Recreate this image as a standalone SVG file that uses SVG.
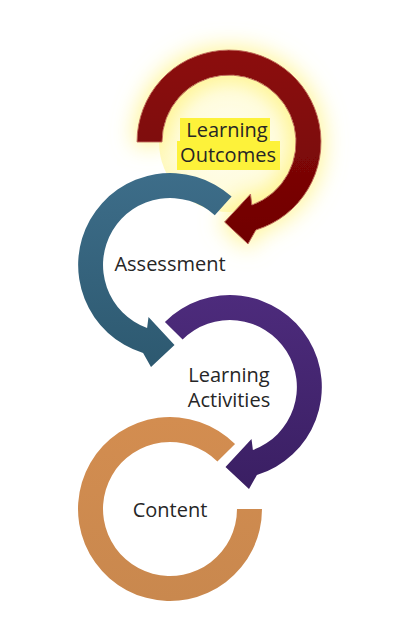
<svg xmlns="http://www.w3.org/2000/svg" width="400" height="635" viewBox="0 0 400 635">
<defs>
<style>
.lbl{font-family:"Open Sans","Noto Sans","Liberation Sans",sans-serif;font-size:20px;fill:#262626;text-anchor:middle}
</style>
<linearGradient id="gRed" x1="0" y1="0" x2="0" y2="1"><stop offset="0" stop-color="#8c0d0d"/><stop offset="1" stop-color="#700202"/></linearGradient>
<linearGradient id="gBlue" x1="0" y1="0" x2="0" y2="1"><stop offset="0" stop-color="#3d6d89"/><stop offset="1" stop-color="#2d5970"/></linearGradient>
<linearGradient id="gPurple" x1="0" y1="0" x2="0" y2="1"><stop offset="0" stop-color="#4d2b7c"/><stop offset="1" stop-color="#3a1f63"/></linearGradient>
<linearGradient id="gOrange" x1="0" y1="0" x2="0" y2="1"><stop offset="0" stop-color="#d38d50"/><stop offset="1" stop-color="#c9884e"/></linearGradient>
<radialGradient id="gInner" cx="0.5" cy="0.5" r="0.5"><stop offset="0" stop-color="#fffdf0"/><stop offset="0.7" stop-color="#fffcde"/><stop offset="1" stop-color="#fff9c0"/></radialGradient>
<filter id="glow" x="-40%" y="-40%" width="180%" height="180%">
<feMorphology in="SourceAlpha" operator="dilate" radius="3" result="d"/>
<feGaussianBlur in="d" stdDeviation="11" result="b"/>
<feFlood flood-color="#fff48a" flood-opacity="0.85"/>
<feComposite in2="b" operator="in" result="g"/>
<feMerge><feMergeNode in="g"/><feMergeNode in="SourceGraphic"/></feMerge>
</filter>
</defs>
<rect width="400" height="635" fill="#ffffff"/>
<g id="learning-outcomes">
<circle cx="229" cy="142" r="70" fill="url(#gInner)"/>
<path filter="url(#glow)" fill="url(#gRed)" stroke="#c0675f" stroke-width="1" d="M137,142 A92,92 0 1 1 255.9,230 L248,244 L224.5,222 L250.5,194 L251.9,205 A67,67 0 1 0 162,142 Z"/>
<rect x="180" y="118" width="90" height="24" fill="#fdf23a"/>
<rect x="177" y="141" width="103" height="29" fill="#fdf23a"/>
<text class="lbl" x="227" y="137">Learning</text>
<text class="lbl" x="228" y="162">Outcomes</text>
</g>
<g id="assessment">
<path fill="url(#gBlue)" d="M231.6,196.6 A92,92 0 1 0 143.1,353 L151,367 L174.5,345 L148.5,317 L147.1,328 A67,67 0 1 1 214.8,215.2 Z"/>
<text class="lbl" x="170" y="271">Assessment</text>
</g>
<g id="learning-activities">
<path fill="url(#gPurple)" d="M164.9,321.9 A92,92 0 1 1 256.9,475 L249,489 L225.5,467 L251.5,439 L252.9,450 A67,67 0 1 0 182.6,339.6 Z"/>
<text class="lbl" x="229" y="382">Learning</text>
<text class="lbl" x="229" y="407">Activities</text>
</g>
<g id="content">
<path fill="url(#gOrange)" d="M262,509 A92,92 0 1 1 235.05,443.95 L217.4,461.6 A67,67 0 1 0 237,509 Z"/>
<text class="lbl" x="170" y="517">Content</text>
</g>
<g id="connectors"></g>
</svg>
